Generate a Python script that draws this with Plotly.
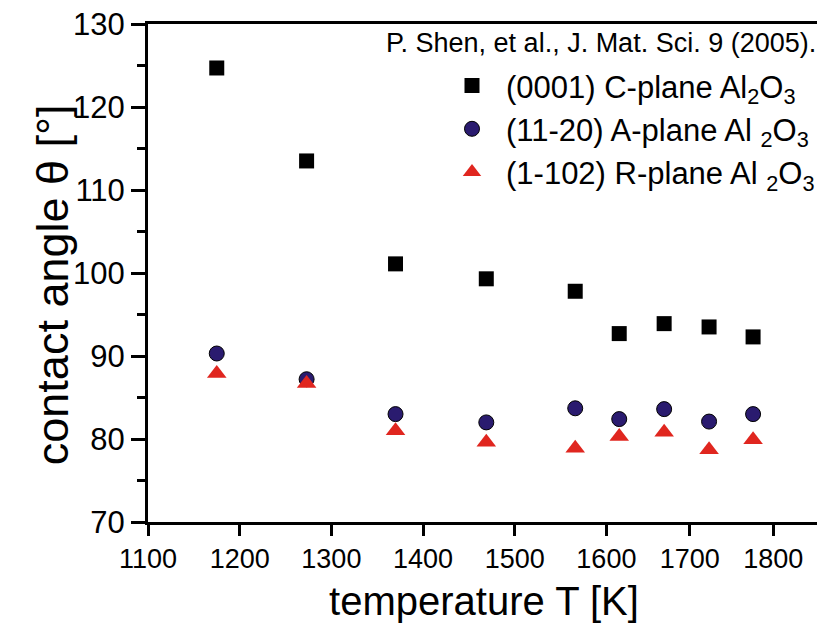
import plotly.graph_objects as go

# ---- data ----
temperature_K = [1175, 1273, 1370, 1469, 1566, 1614, 1663, 1712, 1760]
c_plane_deg = [124.7, 113.5, 101.1, 99.3, 97.8, 92.7, 93.9, 93.5, 92.3]
a_plane_deg = [90.3, 87.2, 83.0, 82.0, 83.7, 82.4, 83.6, 82.1, 83.0]
r_plane_deg = [87.9, 86.7, 81.0, 79.6, 78.9, 80.3, 80.8, 78.7, 79.9]

x_tick_labels = ["1100", "1200", "1300", "1400", "1500", "1600", "1700", "1800"]
x_tick_pos = [1100, 1200, 1300, 1400, 1500, 1600, 1691, 1782]
y_tick_vals = [70, 80, 90, 100, 110, 120, 130]

series_names = [
    "(0001) C-plane Al<sub>2</sub>O<sub>3</sub>",
    "(11-20) A-plane Al <sub>2</sub>O<sub>3</sub>",
    "(1-102) R-plane Al <sub>2</sub>O<sub>3</sub>",
]

FONT = "Liberation Sans, Arial, sans-serif"

fig = go.Figure()
fig.add_trace(go.Scatter(
    x=temperature_K, y=c_plane_deg, mode="markers", name=series_names[0],
    marker=dict(symbol="square", size=15, color="#000000"),
))
fig.add_trace(go.Scatter(
    x=temperature_K, y=a_plane_deg, mode="markers", name=series_names[1],
    marker=dict(symbol="circle", size=15, color="#2a1b6f",
                line=dict(color="#000000", width=1)),
))
fig.add_trace(go.Scatter(
    x=temperature_K, y=r_plane_deg, mode="markers", name=series_names[2],
    marker=dict(symbol="triangle-up", size=17, color="#e0261f"),
))

fig.update_layout(
    width=825, height=630,
    margin=dict(l=140, r=13, t=16, b=116),
    paper_bgcolor="white", plot_bgcolor="white",
    font=dict(family=FONT, color="black"),
    showlegend=True,
    legend=dict(
        x=1.0, xanchor="right", y=0.93, yanchor="top",
        font=dict(family=FONT, size=31, color="black"),
        bgcolor="rgba(0,0,0,0)", itemwidth=58,
    ),
    annotations=[
        dict(
            text="P. Shen, et al., J. Mat. Sci. 9 (2005).",
            xref="paper", yref="paper", x=0.997, y=0.995,
            xanchor="right", yanchor="top", showarrow=False,
            font=dict(family=FONT, size=27, color="black"),
        ),
        dict(
            text="contact angle θ [°]",
            xref="paper", yref="paper", x=-0.141, y=0.476,
            xanchor="center", yanchor="middle", textangle=-90, showarrow=False,
            font=dict(family=FONT, size=45, color="black"),
        ),
    ],
)

fig.update_xaxes(
    range=[1100, 1833], automargin=False, ticklabeloverflow="allow",
    tickmode="array", tickvals=x_tick_pos, ticktext=x_tick_labels,
    ticks="outside", ticklen=11, tickwidth=3, tickcolor="black",
    showline=True, linewidth=3, linecolor="black", mirror=True,
    showgrid=False, zeroline=False,
    tickfont=dict(family=FONT, size=27, color="black"),
    title=dict(text="temperature T [K]", font=dict(family=FONT, size=40, color="black"), standoff=14),
)
fig.update_yaxes(
    range=[70, 130], automargin=False, ticklabeloverflow="allow",
    tickmode="array", tickvals=y_tick_vals,
    ticks="outside", ticklen=14, tickwidth=3, tickcolor="black",
    minor=dict(dtick=5, tick0=70, ticks="outside", ticklen=8, tickwidth=3, tickcolor="black"),
    showline=True, linewidth=3, linecolor="black", mirror=True,
    showgrid=False, zeroline=False,
    tickfont=dict(family=FONT, size=31, color="black"),
)

fig.write_html("out.html")
